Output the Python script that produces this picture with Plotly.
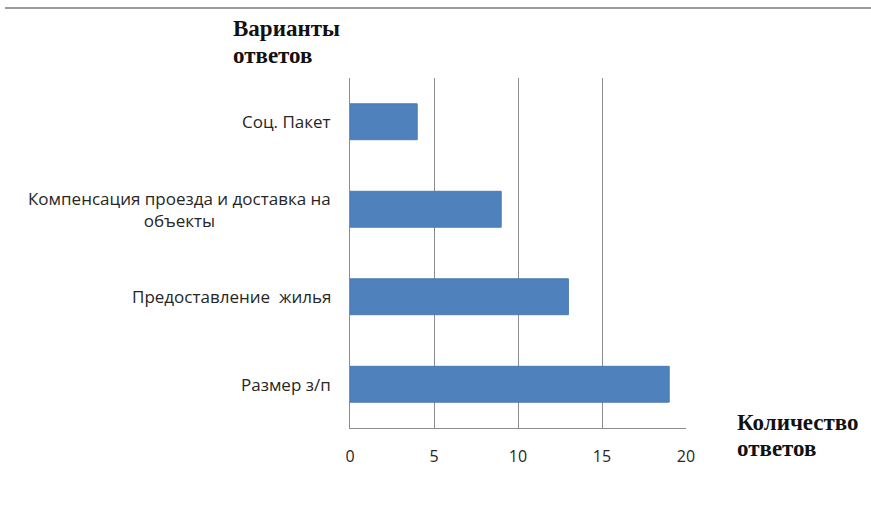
import plotly.graph_objects as go

categories = ["Размер з/п", "Предоставление  жилья",
              "Компенсация проезда и доставка на<br>объекты", "Соц. Пакет"]
values = [19, 13, 9, 4]
x_ticks = [0, 5, 10, 15, 20]

PW, PH = 336, 350  # plot area size in px
L, T = 350, 78

fig = go.Figure(go.Bar(
    x=values, y=categories, orientation="h",
    marker=dict(color="#4f81bd", line=dict(color="#4a7ab4", width=1)),
    width=0.41,
))

grid = "#8c8c8c"
serif = dict(family="Liberation Serif, serif", size=23, color="#111")

annotations = []
for cat in categories:
    annotations.append(dict(text=cat, xref="paper", yref="y", x=-17 / PW, y=cat,
                            xanchor="right", yanchor="middle", align="center", showarrow=False,
                            font=dict(family="Open Sans, sans-serif", size=17, color="#262626")))

def px_x(px):
    return (px - L) / PW

def px_y(py):
    return 1 - (py - T) / PH

for txt, x, y in [("Варианты", 231, 29), ("ответов", 231, 56),
                  ("Количество", 735, 422), ("ответов", 735, 448)]:
    annotations.append(dict(text="<b>%s</b>" % txt, xref="paper", yref="paper",
                            x=px_x(x), y=px_y(y), xanchor="left", yanchor="middle",
                            showarrow=False, font=serif))

fig.update_layout(
    width=871, height=531,
    margin=dict(l=L, r=871 - L - PW, t=T, b=531 - T - PH),
    plot_bgcolor="white", paper_bgcolor="white",
    showlegend=False,
    font=dict(family="Open Sans, sans-serif", size=16, color="#262626"),
    xaxis=dict(range=[0, 20], tickvals=x_ticks, showgrid=True, gridcolor=grid, gridwidth=1,
               zeroline=False, showline=True, linecolor=grid, linewidth=1, mirror=False,
               ticks="", ticklabelstandoff=14, fixedrange=True),
    yaxis=dict(showgrid=False, zeroline=False, showline=True, linecolor=grid, linewidth=1,
               ticks="", showticklabels=False, range=[-0.5, 3.5]),
    shapes=[dict(type="line", xref="paper", yref="paper", x0=px_x(5), x1=px_x(871),
                 y0=px_y(8), y1=px_y(8), line=dict(color="#9a9a9a", width=2))],
    annotations=annotations,
)

fig.write_html("out.html")
